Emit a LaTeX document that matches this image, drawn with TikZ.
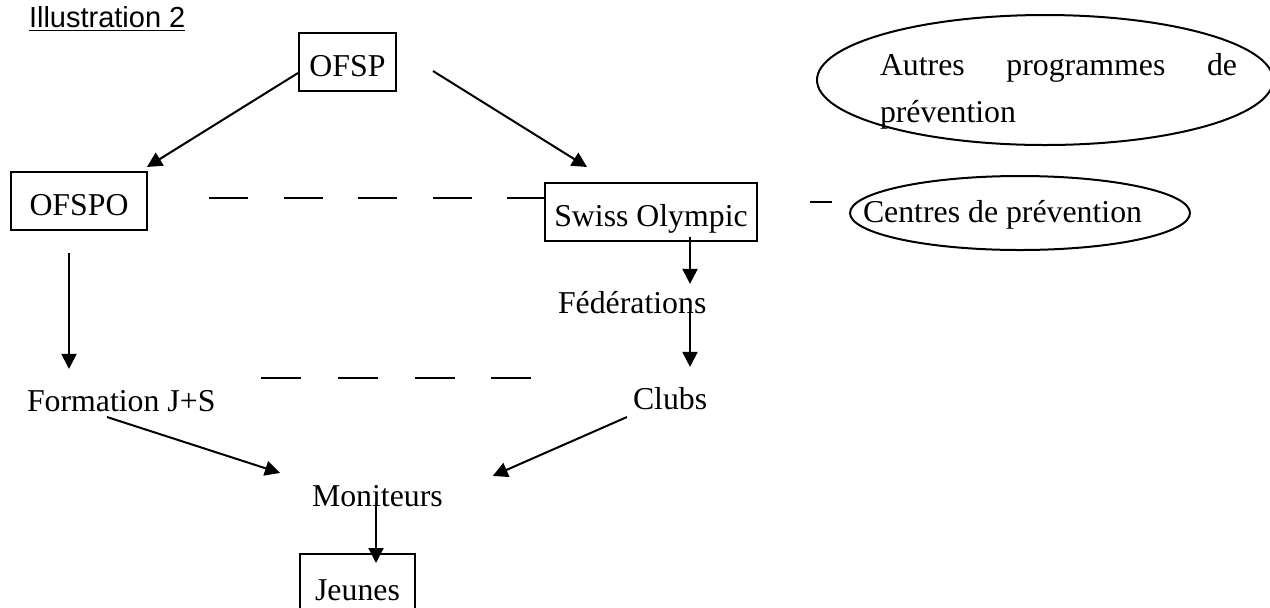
\documentclass[tikz,border=0pt]{standalone}
\usepackage{fontspec}
\setmainfont{Liberation Serif}
\newfontfamily\titlefont{Liberation Sans}
\usetikzlibrary{shapes.geometric, arrows.meta}

\begin{document}
\begin{tikzpicture}[
    x=0.5pt, y=-0.5pt,
    >={Triangle[length=7.5pt, width=7.5pt]},
    font=\fontsize{15.9pt}{23.5pt}\selectfont,
    every node/.style={inner sep=0pt, outer sep=0pt},
    box/.style={draw, line width=1pt, anchor=north west, minimum height=29pt, text height=14pt, text depth=0pt},
    bubble/.style={draw, ellipse, line width=1pt},
    txt/.style={anchor=base west},
    arrow/.style={->, line width=1pt},
    link/.style={line width=1pt},
  ]
  \useasboundingbox (0,0) rectangle (1270,607);
  \node[txt, font=\titlefont\fontsize{14.5pt}{17pt}\selectfont] (title) at (29,27) {\underline{Illustration 2}};
  % boxes
  \node[box, minimum width=48.5pt] (ofsp) at (299,33) {OFSP};
  \node[box, minimum width=68pt] (ofspo) at (11,172) {OFSPO};
  \node[box, minimum width=106pt] (swiss) at (545,183) {Swiss Olympic};
  \node[box, minimum width=57.5pt, minimum height=32pt] (jeunes) at (300,554) {Jeunes};
  % ellipses
  \node[bubble, minimum width=228pt, minimum height=65pt] (autres) at (1045,80) {};
  \node[bubble, minimum width=170pt, minimum height=37pt] (centres) at (1020,213) {};
  \node[txt] (autrestxt) at (880,75.5) {\vtop{\hbox{\makebox[178.5pt][s]{Autres programmes de}}\hbox{prévention}}};
  \node[txt] (centrestxt) at (863,222) {Centres de prévention};
  % plain labels
  \node[txt] (fed) at (558,313) {Fédérations};
  \node[txt] (form) at (27,411) {Formation J+S};
  \node[txt] (clubs) at (633,409) {Clubs};
  \node[txt] (mon) at (312,506) {Moniteurs};
  % arrows
  \draw[arrow] ([xshift=-0.5pt, yshift=-5.5pt]ofsp.west) -- ([yshift=2.5pt]ofspo.north east);
  \draw[arrow] ([xshift=18.5pt, yshift=-4.5pt]ofsp.east) -- ([xshift=21pt, yshift=8pt]swiss.north west);
  \draw[arrow] ([xshift=-5pt, yshift=-11.5pt]ofspo.south) -- ([xshift=21pt, yshift=10.5pt]form.north west);
  \draw[arrow] ([xshift=19.5pt, yshift=2pt]swiss.south) -- ([xshift=66pt, yshift=3.5pt]fed.north west);
  \draw[arrow] ([xshift=66pt]fed.base west) -- ([xshift=28.5pt, yshift=10pt]clubs.north west);
  \draw[arrow] ([xshift=40pt, yshift=-3pt]form.base west) -- ([xshift=-16pt, yshift=6pt]mon.north west);
  \draw[arrow] ([xshift=-3pt, yshift=-4pt]clubs.base west) -- ([xshift=25pt, yshift=4.5pt]mon.north east);
  \draw[arrow] ([xshift=32pt, yshift=1.5pt]mon.base west) -- ([xshift=38pt, yshift=-4.5pt]jeunes.north west);
  % dashed links
  \draw[link, dash pattern=on 19.5pt off 17.75pt] ([xshift=31pt, yshift=1.5pt]ofspo.east) -- ([yshift=7pt]swiss.west);
  \draw[link, dash pattern=on 20pt off 18.33pt] ([xshift=23pt, yshift=16.5pt]form.base east) -- ([xshift=-51pt, yshift=15.5pt]clubs.base west);
  \draw[link] ([xshift=26.5pt, yshift=5pt]swiss.east) -- ([xshift=-9pt, yshift=5.5pt]centres.west);
\end{tikzpicture}
\end{document}
